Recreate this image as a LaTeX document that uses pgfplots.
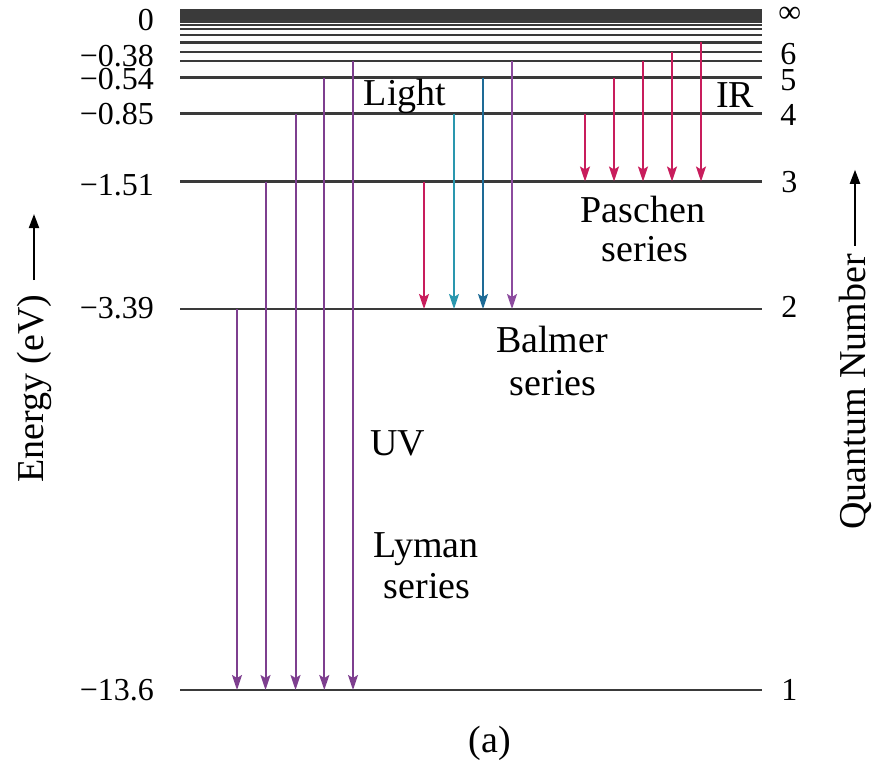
\documentclass[border=0pt]{standalone}
\usepackage{fontspec}
\setmainfont{Liberation Serif}
\usepackage{pgfplots}
\usepackage{pgfplotstable}
\pgfplotsset{compat=1.18}
\usetikzlibrary{arrows.meta}
\definecolor{levelgray}{HTML}{3A3A3A}
\definecolor{lymanpurple}{HTML}{7E3F8F}
\definecolor{balmerpurple}{HTML}{8C4B9E}
\definecolor{redline}{HTML}{C81D5C}
\definecolor{tealline}{HTML}{2A97AE}
\definecolor{blueline}{HTML}{1E6B96}

% levels: height above n=1 (drawing units, n = 1..19, infinity)
\pgfplotstableread[row sep=\\]{
x y\\
180 0\\
180 381\\
180 508.5\\
180 576.3\\
180 612.3\\
180 629\\
180 638\\
180 647.5\\
180 655\\
180 661\\
180 665\\
180 668\\
180 670.3\\
180 672.2\\
180 673.8\\
180 675.2\\
180 676.4\\
180 677.5\\
180 678.5\\
180 679.5\\
}\levels

% arrows: x, upper level, drop
\pgfplotstableread[row sep=\\]{
x y v\\
237 381 -381\\
265.5 508.5 -508.5\\
295.5 576.3 -576.3\\
324.3 612.3 -612.3\\
353 629 -629\\
}\lyman

\pgfplotstableread[row sep=\\]{
x y v\\
424 508.5 -127.5\\
}\balmerA
\pgfplotstableread[row sep=\\]{
x y v\\
454 576.3 -195.3\\
}\balmerB
\pgfplotstableread[row sep=\\]{
x y v\\
483 612.3 -231.3\\
}\balmerC
\pgfplotstableread[row sep=\\]{
x y v\\
512 629 -248\\
}\balmerD

\pgfplotstableread[row sep=\\]{
x y v\\
585 576.3 -67.8\\
614 612.3 -103.8\\
643 629 -120.5\\
672 638 -129.5\\
701 647.5 -139\\
}\paschen

\newcommand{\bigtxt}{\fontsize{19}{22}\selectfont}
\newcommand{\ticktxt}{\fontsize{16}{19}\selectfont}

\begin{document}
\begin{tikzpicture}
\begin{axis}[
    x=0.5pt, y=0.5pt,
    xmin=0, xmax=873, ymin=-73, ymax=690,
    hide axis, clip=false,
    arr/.style={line width=1pt, -{Stealth[length=7.5pt, width=5pt, inset=1.5pt]}},
]
\path (axis cs:0,-73) rectangle (axis cs:873,690);

% energy levels
\addplot[levelgray, line width=1.25pt, quiver={u=582, v=0}]
    table[x=x, y=y] {\levels};

% Lyman series
\addplot[lymanpurple, arr, quiver={u=0, v=\thisrow{v}}]
    table[x=x, y=y] {\lyman};

% Balmer series
\addplot[redline, arr, quiver={u=0, v=\thisrow{v}}] table[x=x, y=y] {\balmerA};
\addplot[tealline, arr, quiver={u=0, v=\thisrow{v}}] table[x=x, y=y] {\balmerB};
\addplot[blueline, arr, quiver={u=0, v=\thisrow{v}}] table[x=x, y=y] {\balmerC};
\addplot[balmerpurple, arr, quiver={u=0, v=\thisrow{v}}] table[x=x, y=y] {\balmerD};

% Paschen series
\addplot[redline, arr, quiver={u=0, v=\thisrow{v}}]
    table[x=x, y=y] {\paschen};

% energy labels
\node[anchor=base east, font=\ticktxt] at (axis cs:161,660) {0};
\node[anchor=base east, font=\ticktxt] at (axis cs:161,624) {−0.38};
\node[anchor=base east, font=\ticktxt] at (axis cs:161,601) {−0.54};
\node[anchor=base east, font=\ticktxt] at (axis cs:161,566) {−0.85};
\node[anchor=base east, font=\ticktxt] at (axis cs:161,495) {−1.51};
\node[anchor=base east, font=\ticktxt] at (axis cs:161,372) {−3.39};
\node[anchor=base east, font=\ticktxt] at (axis cs:161,-10) {−13.6};

% quantum numbers
\node[anchor=west, font=\ticktxt, inner xsep=0pt] at (axis cs:778,675) {∞};
\node[anchor=base west, font=\ticktxt, inner xsep=0pt] at (axis cs:780,625) {6};
\node[anchor=base west, font=\ticktxt, inner xsep=0pt] at (axis cs:780,600) {5};
\node[anchor=base west, font=\ticktxt, inner xsep=0pt] at (axis cs:780,565) {4};
\node[anchor=base west, font=\ticktxt, inner xsep=0pt] at (axis cs:781,498) {3};
\node[anchor=base west, font=\ticktxt, inner xsep=0pt] at (axis cs:781,373) {2};
\node[anchor=base west, font=\ticktxt, inner xsep=0pt] at (axis cs:781,-10) {1};

% axis titles, text reads upward, arrow after it
\node[rotate=90, anchor=west, font=\bigtxt, inner sep=0pt] (elab) at (axis cs:34,207) {Energy (eV)};
\draw[black, line width=1pt, -{Triangle[length=7pt, width=5pt]}]
    ([yshift=7pt]elab.east) -- ([yshift=40pt]elab.east);
\node[rotate=90, anchor=west, font=\bigtxt, inner sep=0pt] (qlab) at (axis cs:855,160) {Quantum Number};
\draw[black, line width=1pt, -{Triangle[length=7pt, width=5pt]}]
    ([yshift=4pt]qlab.east) -- ([yshift=42pt]qlab.east);

% annotations
\node[anchor=base, font=\bigtxt] at (axis cs:405,584) {Light};
\node[anchor=base, font=\bigtxt] at (axis cs:735,582) {IR};
\node[anchor=base, font=\bigtxt] at (axis cs:643,468) {Paschen};
\node[anchor=base, font=\bigtxt] at (axis cs:645,429) {series};
\node[anchor=base, font=\bigtxt] at (axis cs:552,338) {Balmer};
\node[anchor=base, font=\bigtxt] at (axis cs:553,295) {series};
\node[anchor=base, font=\bigtxt] at (axis cs:398,235) {UV};
\node[anchor=base, font=\bigtxt] at (axis cs:426,133) {Lyman};
\node[anchor=base, font=\bigtxt] at (axis cs:427,92) {series};
\node[anchor=base, font=\bigtxt] at (axis cs:490,-62) {(a)};
\end{axis}
\end{tikzpicture}
\end{document}
